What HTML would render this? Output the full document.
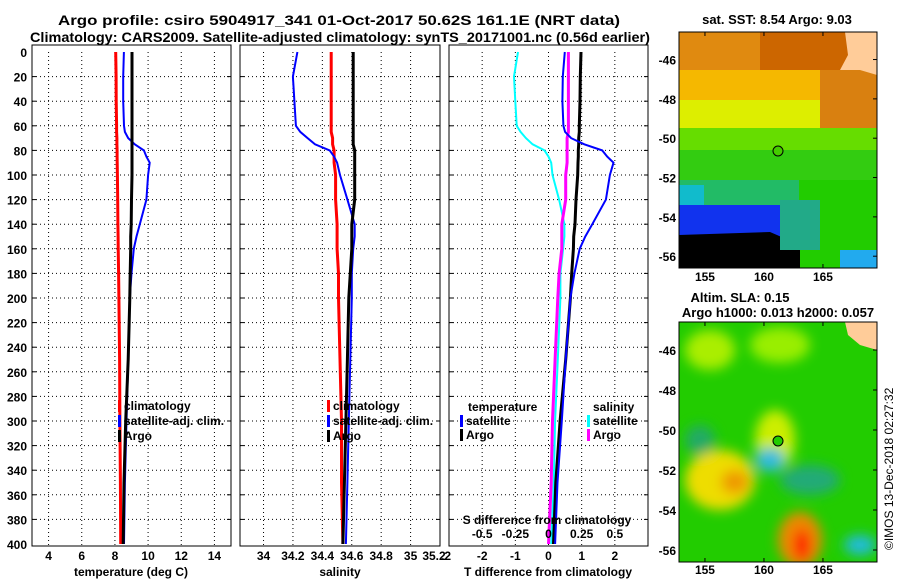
<!DOCTYPE html>
<html><head><meta charset="utf-8"><style>
body{margin:0;background:#fff;}
svg{display:block;font-family:"Liberation Sans",sans-serif;font-weight:bold;}
</style></head><body>
<svg id="c" width="900" height="580" viewBox="0 0 900 580" xmlns="http://www.w3.org/2000/svg">
<defs>
<filter id="blur" x="-20%" y="-20%" width="140%" height="140%"><feGaussianBlur stdDeviation="6"/></filter>
<clipPath id="m1"><rect x="679" y="32" width="198" height="236"/></clipPath>
<clipPath id="m2"><rect x="679" y="322" width="198" height="240"/></clipPath>
</defs>
<text x="58" y="25" font-size="14" textLength="562" lengthAdjust="spacingAndGlyphs">Argo profile: csiro 5904917_341 01-Oct-2017 50.62S 161.1E (NRT data)</text>
<text x="30" y="42" font-size="14" textLength="620" lengthAdjust="spacingAndGlyphs">Climatology: CARS2009. Satellite-adjusted climatology: synTS_20171001.nc (0.56d earlier)</text>

<!-- SST map -->
<g clip-path="url(#m1)">
<rect x="679" y="32" width="198" height="236" fill="#22cc00"/>
<rect x="679" y="32" width="198" height="45" fill="#e08a10"/>
<rect x="760" y="32" width="117" height="40" fill="#cc6600"/>
<rect x="679" y="70" width="198" height="35" fill="#f5b800"/>
<rect x="679" y="100" width="198" height="28" fill="#ddee00"/>
<rect x="820" y="70" width="57" height="60" fill="#d98010"/>
<rect x="679" y="128" width="198" height="25" fill="#66dd00"/>
<rect x="679" y="150" width="198" height="30" fill="#33cc11"/>
<rect x="679" y="180" width="120" height="40" fill="#22bb66"/>
<rect x="679" y="185" width="25" height="30" fill="#11bbcc"/>
<rect x="679" y="205" width="120" height="63" fill="#1133ee"/>
<polygon points="679,235 770,232 800,245 800,268 679,268" fill="#000"/>
<rect x="780" y="200" width="40" height="50" fill="#22aa88"/>
<rect x="840" y="250" width="37" height="18" fill="#22aaee"/>
<polygon points="845,32 877,32 877,75 860,70 840,70 848,55" fill="#ffcc99"/>
</g>
<rect x="679" y="32" width="198" height="236" fill="none" stroke="#000"/>
<circle cx="778" cy="151" r="5" fill="#44cc00" stroke="#000"/>
<text x="777" y="24" font-size="13" text-anchor="middle">sat. SST: 8.54 Argo: 9.03</text>

<!-- SLA map -->
<g clip-path="url(#m2)">
<rect x="679" y="322" width="198" height="240" fill="#22cc00"/>
<g filter="url(#blur)">
<ellipse cx="710" cy="350" rx="25" ry="20" fill="#aaee00"/>
<ellipse cx="780" cy="345" rx="30" ry="18" fill="#99ee00"/>
<ellipse cx="720" cy="480" rx="35" ry="30" fill="#eedd00"/>
<ellipse cx="735" cy="482" rx="14" ry="12" fill="#ee9900"/>
<ellipse cx="775" cy="440" rx="20" ry="30" fill="#ccee00"/>
<ellipse cx="700" cy="440" rx="15" ry="15" fill="#22aa66"/>
<ellipse cx="770" cy="460" rx="15" ry="12" fill="#33bbdd"/>
<ellipse cx="800" cy="540" rx="22" ry="28" fill="#ee8800"/>
<ellipse cx="802" cy="545" rx="8" ry="16" fill="#ff1100"/>
<ellipse cx="860" cy="545" rx="16" ry="10" fill="#22bbdd"/>
<ellipse cx="810" cy="480" rx="30" ry="15" fill="#22aa77"/>
</g>
<polygon points="845,322 877,322 877,350 860,345 848,335" fill="#ffcc99"/>
</g>
<rect x="679" y="322" width="198" height="240" fill="none" stroke="#000"/>
<circle cx="778" cy="441" r="5" fill="#22cc00" stroke="#000"/>
<text x="740" y="302" font-size="13" text-anchor="middle">Altim. SLA: 0.15</text>
<text x="778" y="317" font-size="13" text-anchor="middle">Argo h1000: 0.013 h2000: 0.057</text>
<text transform="translate(893,550) rotate(-90)" font-size="12" font-weight="normal">©IMOS 13-Dec-2018 02:27:32</text>
<g id="plots"></g>
</svg>
<script>
const depths=[0,20,40,60,65,70,75,80,85,90,100,120,140,150,160,180,200,250,300,350,400];
const tempClim=[8.05,8.07,8.08,8.1,8.1,8.12,8.12,8.13,8.13,8.14,8.15,8.17,8.18,8.19,8.2,8.22,8.24,8.28,8.3,8.33,8.35];
const tempSat=[8.54,8.5,8.5,8.55,8.6,8.8,9.2,9.75,9.9,10.1,10.0,9.9,9.5,9.3,9.14,9.0,8.9,8.8,8.7,8.6,8.55];
const tempArgo=[9.03,9.03,9.03,9.03,9.03,9.03,9.03,9.03,9.03,9.03,9.03,9.0,8.98,8.95,8.95,8.92,8.9,8.8,8.65,8.55,8.5];
const salClim=[34.46,34.46,34.46,34.46,34.46,34.47,34.47,34.48,34.48,34.48,34.49,34.49,34.5,34.5,34.5,34.51,34.51,34.52,34.53,34.53,34.54];
const salSat=[34.23,34.2,34.21,34.22,34.25,34.3,34.35,34.45,34.48,34.5,34.52,34.57,34.62,34.62,34.61,34.6,34.6,34.59,34.58,34.57,34.56];
const salArgo=[34.61,34.61,34.61,34.61,34.61,34.61,34.61,34.62,34.62,34.62,34.62,34.62,34.6,34.6,34.6,34.59,34.58,34.57,34.56,34.55,34.54];
const depthTicks=[0,20,40,60,80,100,120,140,160,180,200,220,240,260,280,300,320,340,360,380,400];
const tempTicks=[4,6,8,10,12,14];
const salTicks=[34,34.2,34.4,34.6,34.8,35,35.2];
const tdTicks=[-2,-1,0,1,2];
const sdTicks=["-0.5","-0.25","0","0.25","0.5"];
const lonTicks=[155,160,165];
const latTicks=[-46,-48,-50,-52,-54,-56];

const NS='http://www.w3.org/2000/svg';
const G=document.getElementById('plots');
function mk(t,a,p){const e=document.createElementNS(NS,t);for(const k in a)e.setAttribute(k,a[k]);(p||G).appendChild(e);return e;}
const Y0=52,Y1=544;
const yS=d=>Y0+(d/400)*(Y1-Y0);
function panel(x0,x1,xmin,xmax,name){
  const xs=v=>x0+(v-xmin)/(xmax-xmin)*(x1-x0);
  const g=mk('g',{});
  
  
  return {xs,g,x0,x1};
}
function grid(P,xv){
  xv.forEach(v=>{const l=mk('line',{x1:P.xs(v),x2:P.xs(v),y1:Y0,y2:546,stroke:'#000','stroke-dasharray':'1,3'},P.g);
    });
  depthTicks.forEach(d=>{if(d==0||d==400)return;const l=mk('line',{x1:P.x0,x2:P.x1,y1:yS(d),y2:yS(d),stroke:'#000','stroke-dasharray':'1,3'},P.g);
    
    mk('line',{x1:P.x0,x2:P.x0+4,y1:yS(d),y2:yS(d),stroke:'#000'},P.g);mk('line',{x1:P.x1-4,x2:P.x1,y1:yS(d),y2:yS(d),stroke:'#000'},P.g);});
  const r=mk('rect',{x:P.x0,y:Y0-7,width:P.x1-P.x0,height:546-Y0+7,fill:'none',stroke:'#000'},P.g);
  
}
function line(P,vals,col,w,name){
  const pts=vals.map((v,i)=>P.xs(v).toFixed(1)+','+yS(depths[i]).toFixed(1)).join(' ');
  const l=mk('polyline',{points:pts,fill:'none',stroke:col,'stroke-width':w},P.g);
  
}
function txt(x,y,s,anchor,size,name,p){const t=mk('text',{x:x,y:y,'font-size':size||12,'text-anchor':anchor||'middle'},p||G);t.textContent=s;
  return t;}
function legItem(x,y,col,s,name,p){const r=mk('rect',{x:x,y:y-10,width:3,height:12,fill:col},p);
  txt(x+6,y,s,'start',12,name,p);}

// temperature
const P1=panel(32,231,3,15,'temperature-panel');
grid(P1,tempTicks);
line(P1,tempClim,'#f00',3,'temp-climatology-line');
line(P1,tempSat,'#00f',2,'temp-satellite-line');
line(P1,tempArgo,'#000',3,'temp-argo-line');
depthTicks.forEach(d=>txt(27,yS(d)+5,String(d),'end',12,'depth-tick-label',P1.g));
tempTicks.forEach(v=>txt(P1.xs(v),560,String(v),'middle',12,'temp-tick-label',P1.g));
txt(131,576,'temperature (deg C)','middle',12,'temp-axis-title',P1.g);
legItem(118,410,'#f00','climatology','legend-climatology',P1.g);
legItem(118,425,'#00f','satellite-adj. clim.','legend-satellite',P1.g);
legItem(118,440,'#000','Argo','legend-argo',P1.g);

// salinity
const P2=panel(240,440,33.84,35.2,'salinity-panel');
grid(P2,salTicks.slice(0,6));
line(P2,salClim,'#f00',3,'sal-climatology-line');
line(P2,salSat,'#00f',2,'sal-satellite-line');
line(P2,salArgo,'#000',3,'sal-argo-line');
salTicks.forEach(v=>txt(Math.min(P2.xs(v),434),560,String(v),'middle',12,'sal-tick-label',P2.g));
txt(340,576,'salinity','middle',12,'sal-axis-title',P2.g);
legItem(327,410,'#f00','climatology','legend-climatology',P2.g);
legItem(327,425,'#00f','satellite-adj. clim.','legend-satellite',P2.g);
legItem(327,440,'#000','Argo','legend-argo',P2.g);

// difference
const P3=panel(449,648,-3,3,'difference-panel');
grid(P3,tdTicks);
const tdSat=tempSat.map((v,i)=>v-tempClim[i]);
const tdArgo=tempArgo.map((v,i)=>v-tempClim[i]);
const sdSat=salSat.map((v,i)=>(v-salClim[i])*4);
const sdArgo=salArgo.map((v,i)=>(v-salClim[i])*4);
line(P3,sdSat,'#0ff',2,'sdiff-satellite-line');
line(P3,sdArgo,'#f0f',3,'sdiff-argo-line');
line(P3,tdArgo,'#000',3,'tdiff-argo-line');
line(P3,tdSat,'#00f',2,'tdiff-satellite-line');
tdTicks.forEach(v=>txt(P3.xs(v),560,String(v),'middle',12,'tdiff-tick-label',P3.g));
txt(441,560,'.2','start',12,'tdiff-tick-label-cut',P3.g);
sdTicks.forEach((s,i)=>txt(P3.xs(tdTicks[i]),538,s,'middle',12,'sdiff-tick-label',P3.g));
txt(547,524,'S difference from climatology','middle',12,'sdiff-axis-title',P3.g);
txt(548,576,'T difference from climatology','middle',12,'tdiff-axis-title',P3.g);
txt(468,411,'temperature','start',12,'legend-temperature-header',P3.g);
legItem(460,425,'#00f','satellite','legend-tdiff-satellite',P3.g);
legItem(460,439,'#000','Argo','legend-tdiff-argo',P3.g);
txt(593,411,'salinity','start',12,'legend-salinity-header',P3.g);
legItem(587,425,'#0ff','satellite','legend-sdiff-satellite',P3.g);
legItem(587,439,'#f0f','Argo','legend-sdiff-argo',P3.g);

// map axes
const lonX=v=>679+(v-152.8)*11.8;
[[32,268,281],[322,562,574]].forEach(([t,b,ly])=>{
  const latY=v=>t+(-44.6-v)/12*(b-t);
  lonTicks.forEach(v=>{mk('line',{x1:lonX(v),x2:lonX(v),y1:b-4,y2:b,stroke:'#000'});mk('line',{x1:lonX(v),x2:lonX(v),y1:t,y2:t+4,stroke:'#000'});
    txt(lonX(v),ly,String(v),'middle',12,'lon-tick-label');});
  latTicks.forEach(v=>{mk('line',{x1:873,x2:877,y1:latY(v),y2:latY(v),stroke:'#000'});
    txt(676,latY(v)+5,String(v),'end',12,'lat-tick-label');});
});
</script>
</body></html>
